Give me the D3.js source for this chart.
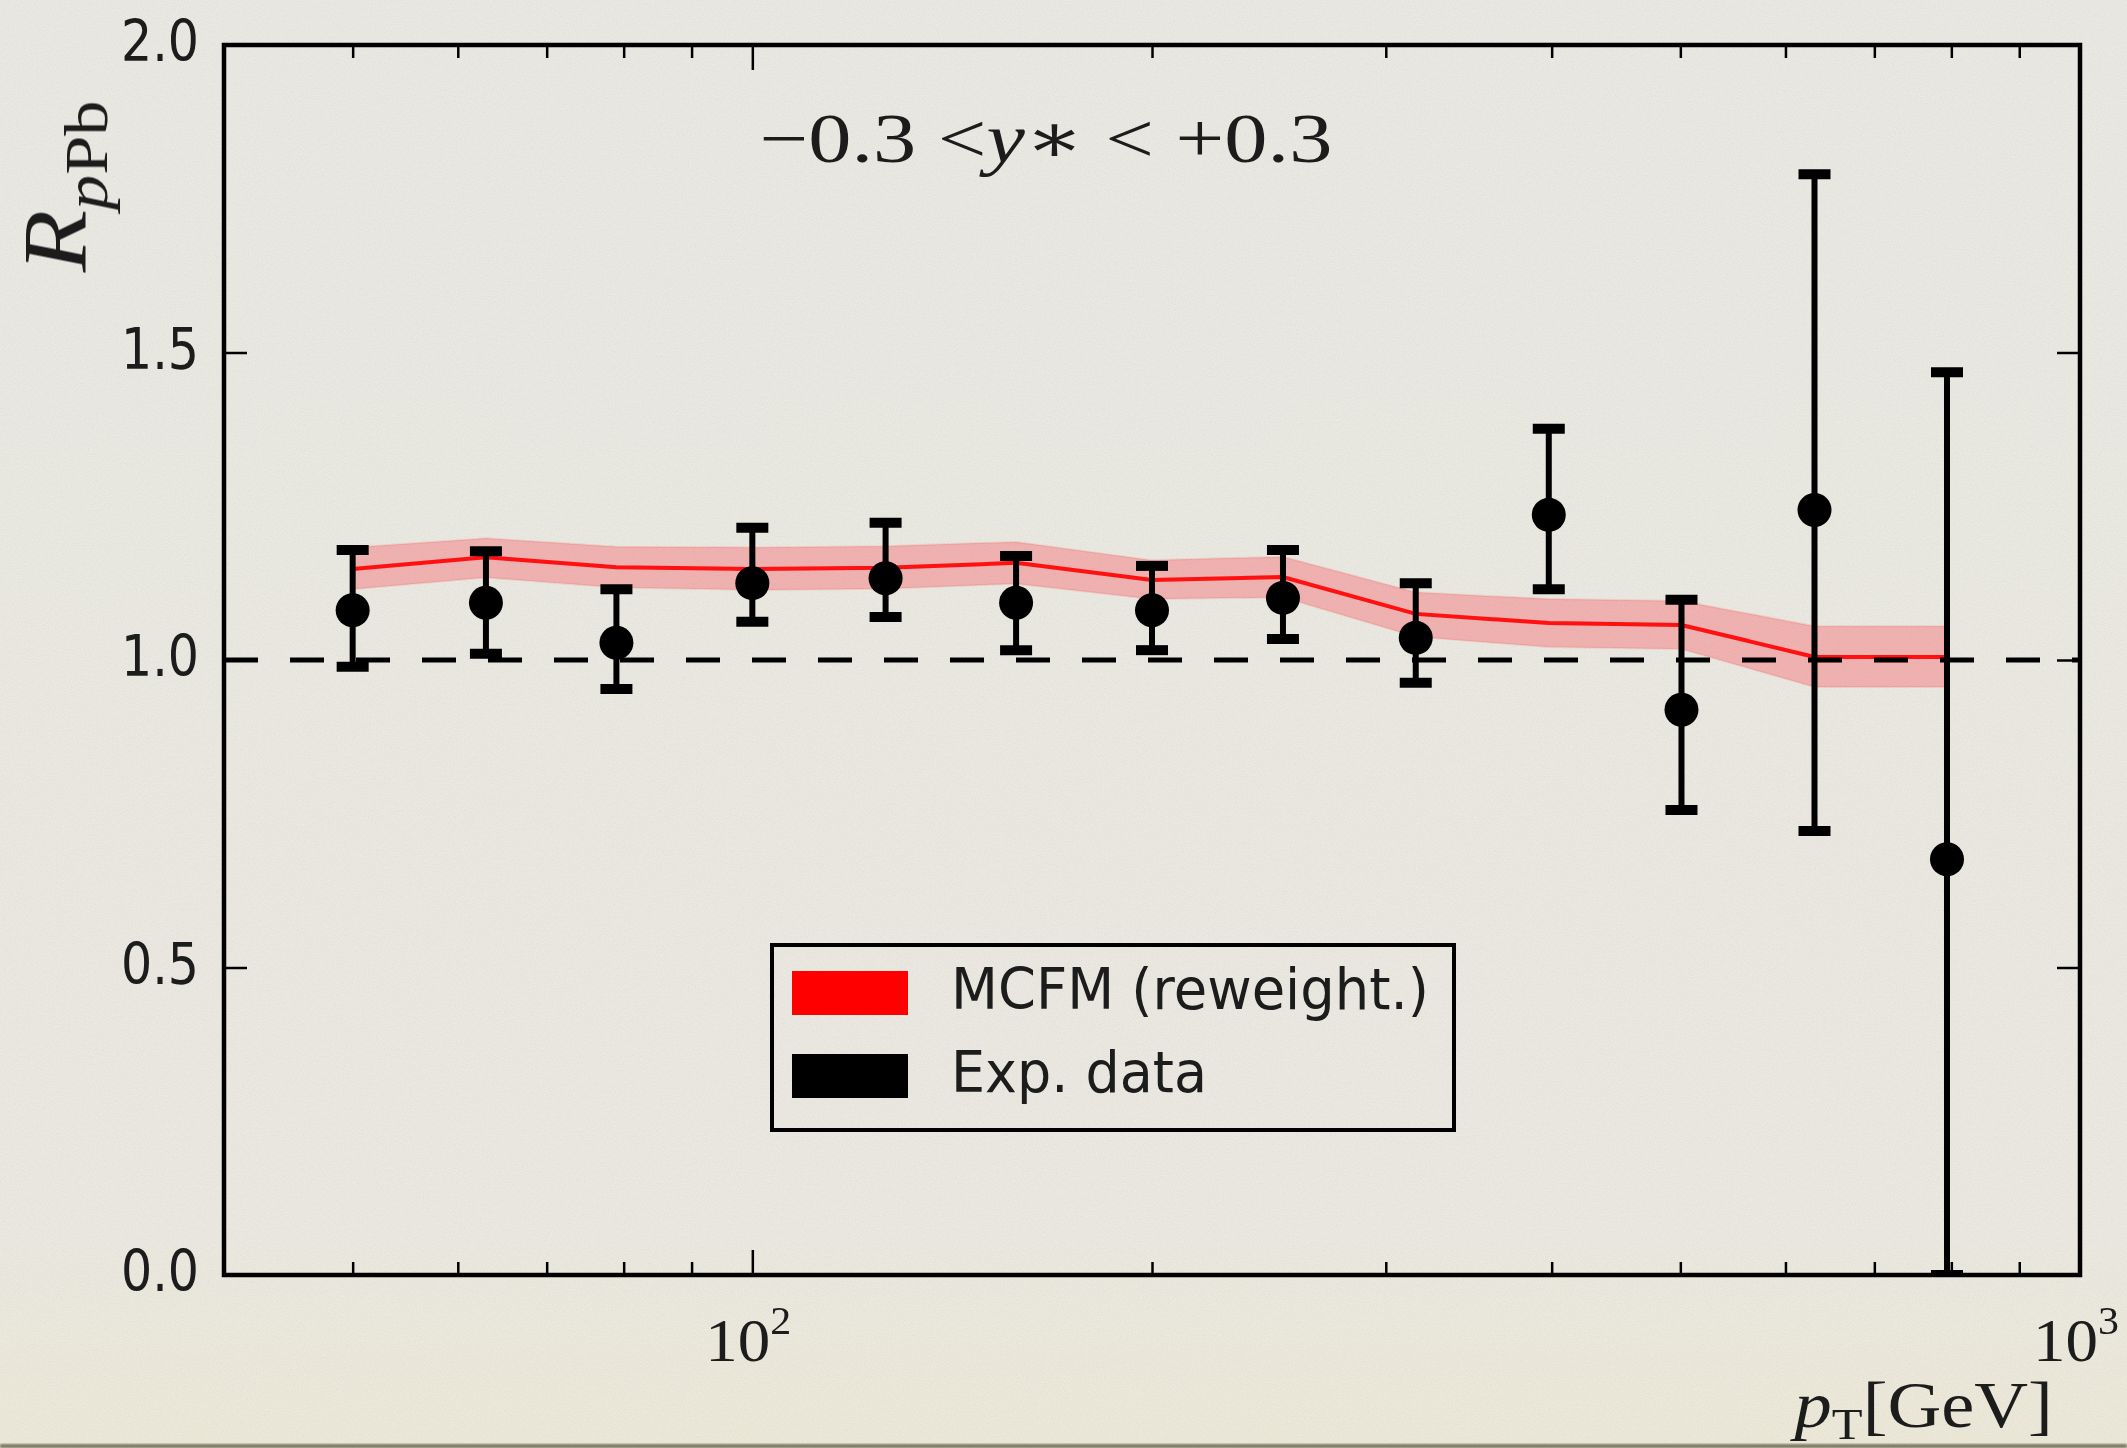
<!DOCTYPE html>
<html>
<head>
<meta charset="utf-8">
<script src="https://cdn.jsdelivr.net/npm/d3@7"></script>
<style>
  html, body { margin: 0; padding: 0; background: #e9e8e2; }
  svg { display: block; }
</style>
</head>
<body>
<svg id="chart" width="2127" height="1448"></svg>
<script>
// Transverse momentum bins (GeV)
const pt = [50, 63, 79, 100, 126, 158, 200, 251, 316, 398, 501, 631, 794];
// Measured nuclear modification factor with its uncertainty range
const ratio     = [1.081, 1.093, 1.028, 1.125, 1.133, 1.093, 1.081, 1.101, 1.036, 1.236, 0.919, 1.244, 0.676];
const ratioLow  = [0.989, 1.010, 0.953, 1.062, 1.070, 1.016, 1.016, 1.034, 0.963, 1.115, 0.756, 0.722, 0.000];
const ratioHigh = [1.179, 1.177, 1.115, 1.215, 1.223, 1.169, 1.153, 1.179, 1.125, 1.376, 1.098, 1.790, 1.468];
// MCFM (reweighted) prediction: central value and band
const mcfm      = [1.148, 1.167, 1.151, 1.148, 1.150, 1.158, 1.130, 1.135, 1.075, 1.060, 1.057, 1.005, 1.005];
const mcfmLow   = [1.115, 1.134, 1.118, 1.114, 1.116, 1.124, 1.099, 1.102, 1.038, 1.021, 1.018, 0.956, 0.956];
const mcfmHigh  = [1.183, 1.198, 1.184, 1.183, 1.185, 1.192, 1.162, 1.168, 1.110, 1.099, 1.096, 1.055, 1.055];
// Axis ticks
const yTicks = [0.0, 0.5, 1.0, 1.5, 2.0];
const xMajor = [100, 1000];
const xMajorExp = ["2", "3"];
const xMinor = [50, 60, 70, 80, 90, 200, 300, 400, 500, 600, 700, 800, 900];
const legendLabels = ["MCFM (reweight.)", "Exp. data"];
const legendColors = ["#ff0000", "#000000"];

const W = 2127, H = 1448;
const plot = { left: 224, right: 2080, top: 45, bottom: 1275 };

const svg = d3.select("#chart");
const defs = svg.append("defs");

// paper-like background
const bgGrad = defs.append("linearGradient").attr("id", "bgGrad")
  .attr("x1", 0).attr("y1", 0).attr("x2", 0).attr("y2", 1);
bgGrad.append("stop").attr("offset", "0").attr("stop-color", "#eae9e3");
bgGrad.append("stop").attr("offset", "0.85").attr("stop-color", "#ebe9e1");
bgGrad.append("stop").attr("offset", "1").attr("stop-color", "#ede9d9");

const grain = defs.append("filter").attr("id", "grain")
  .attr("x", 0).attr("y", 0).attr("width", 1).attr("height", 1);
grain.append("feTurbulence").attr("type", "fractalNoise")
  .attr("baseFrequency", 0.85).attr("numOctaves", 2).attr("seed", 7);
grain.append("feColorMatrix").attr("type", "matrix")
  .attr("values", "0 0 0 0 0.35  0 0 0 0 0.35  0 0 0 0 0.3  0.24 0 0 0 -0.08");

const soft = defs.append("filter").attr("id", "soft")
  .attr("x", -0.05).attr("y", -0.05).attr("width", 1.1).attr("height", 1.1);
soft.append("feGaussianBlur").attr("stdDeviation", 0.7);

const edgeBlur = defs.append("filter").attr("id", "edgeBlur");
edgeBlur.append("feGaussianBlur").attr("stdDeviation", 1.2);

defs.append("clipPath").attr("id", "plotClip")
  .append("rect")
  .attr("x", plot.left).attr("y", plot.top)
  .attr("width", plot.right - plot.left).attr("height", plot.bottom - plot.top);

svg.append("rect").attr("width", W).attr("height", H).attr("fill", "url(#bgGrad)");
svg.append("rect").attr("width", W).attr("height", H).attr("fill", "#fff").attr("filter", "url(#grain)");

// dark lower edge of the sheet
svg.append("rect").attr("x", 0).attr("y", H - 4).attr("width", W).attr("height", 4)
  .attr("fill", "#5f5d45").attr("filter", "url(#edgeBlur)").attr("opacity", 0.8);

const root = svg.append("g").attr("filter", "url(#soft)");

const x = d3.scaleLog().domain([40, 1000]).range([plot.left, plot.right]);
const y = d3.scaleLinear().domain([0, 2]).range([plot.bottom, plot.top]);

const rows = pt.map((p, i) => ({
  pt: p, r: ratio[i], lo: ratioLow[i], hi: ratioHigh[i],
  m: mcfm[i], mlo: mcfmLow[i], mhi: mcfmHigh[i]
}));

const data = root.append("g").attr("clip-path", "url(#plotClip)");

// MCFM band and central line
data.append("path").datum(rows)
  .attr("d", d3.area().x(d => x(d.pt)).y0(d => y(d.mlo)).y1(d => y(d.mhi)))
  .attr("fill", "rgba(255,30,40,0.27)")
  .attr("stroke", "rgba(255,0,0,0.10)").attr("stroke-width", 2);
data.append("path").datum(rows)
  .attr("d", d3.line().x(d => x(d.pt)).y(d => y(d.m)))
  .attr("fill", "none").attr("stroke", "#ff0000").attr("stroke-width", 4)
  .attr("stroke-opacity", 0.9);

// unity reference line
data.append("line")
  .attr("x1", x.range()[0]).attr("x2", x.range()[1])
  .attr("y1", y(1)).attr("y2", y(1))
  .attr("stroke", "#000").attr("stroke-width", 5)
  .attr("stroke-dasharray", "34 32");

// data with error bars
const pts = data.append("g").selectAll("g").data(rows).join("g");
pts.append("line")
  .attr("x1", d => x(d.pt)).attr("x2", d => x(d.pt))
  .attr("y1", d => y(d.lo)).attr("y2", d => y(d.hi))
  .attr("stroke", "#000").attr("stroke-width", 6);
pts.selectAll("line.cap").data(d => [[d.pt, d.lo], [d.pt, d.hi]]).join("line")
  .attr("class", "cap")
  .attr("x1", d => x(d[0]) - 16).attr("x2", d => x(d[0]) + 16)
  .attr("y1", d => y(d[1])).attr("y2", d => y(d[1]))
  .attr("stroke", "#000").attr("stroke-width", 10);
pts.append("circle")
  .attr("cx", d => x(d.pt)).attr("cy", d => y(d.r)).attr("r", 17)
  .attr("fill", "#000");

// axes: ticks point inward on all four sides
const axes = root.append("g");
function styleTicks(g) {
  g.select(".domain").remove();
  g.selectAll(".tick line").attr("stroke", "#000").attr("stroke-width", 2.5);
}
axes.append("g").attr("transform", `translate(0,${plot.bottom})`)
  .call(d3.axisBottom(x).tickValues(xMinor).tickSizeInner(-13).tickSizeOuter(0).tickFormat(""))
  .call(styleTicks);
axes.append("g").attr("transform", `translate(0,${plot.top})`)
  .call(d3.axisTop(x).tickValues(xMinor).tickSizeInner(-13).tickSizeOuter(0).tickFormat(""))
  .call(styleTicks);
const xAxisMajor = axes.append("g").attr("transform", `translate(0,${plot.bottom})`)
  .call(d3.axisBottom(x).tickValues(xMajor).tickSizeInner(-25).tickSizeOuter(0).tickFormat(""))
  .call(styleTicks);
axes.append("g").attr("transform", `translate(0,${plot.top})`)
  .call(d3.axisTop(x).tickValues(xMajor).tickSizeInner(-25).tickSizeOuter(0).tickFormat(""))
  .call(styleTicks);
const yAxis = axes.append("g").attr("transform", `translate(${plot.left},0)`)
  .call(d3.axisLeft(y).tickValues(yTicks).tickSizeInner(-23).tickSizeOuter(0)
    .tickPadding(25).tickFormat(d3.format(".1f")))
  .call(styleTicks);
axes.append("g").attr("transform", `translate(${plot.right},0)`)
  .call(d3.axisRight(y).tickValues(yTicks).tickSizeInner(-23).tickSizeOuter(0).tickFormat(""))
  .call(styleTicks);

yAxis.selectAll(".tick text")
  .attr("font-family", "'DejaVu Sans', sans-serif").attr("font-size", 57)
  .attr("fill", "#1a1a1a")
  .attr("dy", "0.28em")
  .attr("textLength", 78).attr("lengthAdjust", "spacingAndGlyphs");

// frame
axes.append("rect")
  .attr("x", plot.left).attr("y", plot.top)
  .attr("width", plot.right - plot.left).attr("height", plot.bottom - plot.top)
  .attr("fill", "none").attr("stroke", "#000").attr("stroke-width", 4.5);

// helper: place mixed-style text and stretch it to a given width
function placeText(parent, build, tx, ty, width, anchor, rotate) {
  const outer = parent.append("g")
    .attr("transform", `translate(${tx},${ty})` + (rotate ? ` rotate(${rotate})` : ""));
  const inner = outer.append("g");
  const t = inner.append("text").attr("x", 0).attr("y", 0).attr("fill", "#1a1a1a");
  build(t);
  const bb = inner.node().getBBox();
  const s = width / bb.width;
  const off = anchor === "middle" ? bb.width / 2 : anchor === "end" ? bb.width : 0;
  inner.attr("transform", `scale(${s},1) translate(${-bb.x - off},0)`);
  return outer;
}

const serif = "'Liberation Serif', 'DejaVu Serif', serif";

// x tick labels as powers of ten
xAxisMajor.selectAll(".tick").each(function (d, i) {
  placeText(root, t => {
    t.attr("font-family", serif);
    t.append("tspan").attr("font-size", 62).text("10");
    t.append("tspan").attr("font-size", 40).attr("dy", -27).text(xMajorExp[i]);
  }, x(d) - 4, 1361, 86, "middle");
});

// panel title
placeText(root, t => {
  t.attr("font-family", serif).attr("font-size", 70);
  t.append("tspan").text("\u22120.3 <");
  t.append("tspan").attr("font-style", "italic").text("y");
  t.append("tspan").text("\u2217 < +0.3");
}, 1046, 162, 573, "middle");

// x axis title
placeText(root, t => {
  t.attr("font-family", serif).attr("font-size", 65);
  t.append("tspan").attr("font-style", "italic").text("p");
  t.append("tspan").attr("font-size", 44).attr("dy", 12).text("T");
  t.append("tspan").attr("dy", -12).text("[GeV]");
}, 1790, 1427, 263, "start");

// y axis title
placeText(root, t => {
  t.attr("font-family", serif).attr("font-size", 90);
  t.append("tspan").attr("font-style", "italic").text("R");
  t.append("tspan").attr("font-size", 62).attr("dy", 21).attr("font-style", "italic").text("p");
  t.append("tspan").attr("font-size", 62).text("Pb");
}, 86, 187, 173, "middle", -90);

// legend
const legend = root.append("g");
legend.append("rect")
  .attr("x", 772).attr("y", 945).attr("width", 682).attr("height", 185)
  .attr("fill", "none").attr("stroke", "#000").attr("stroke-width", 4);
const legendWidths = [478, 256];
legendLabels.forEach((lab, i) => {
  const cy = 993 + i * 83;
  legend.append("rect")
    .attr("x", 792).attr("y", cy - 22).attr("width", 116).attr("height", 44)
    .attr("fill", legendColors[i]);
  legend.append("text")
    .attr("x", 951).attr("y", cy + 16)
    .attr("font-family", "'DejaVu Sans', sans-serif").attr("font-size", 57)
    .attr("fill", "#1a1a1a")
    .attr("textLength", legendWidths[i]).attr("lengthAdjust", "spacingAndGlyphs")
    .text(lab);
});
</script>
</body>
</html>
